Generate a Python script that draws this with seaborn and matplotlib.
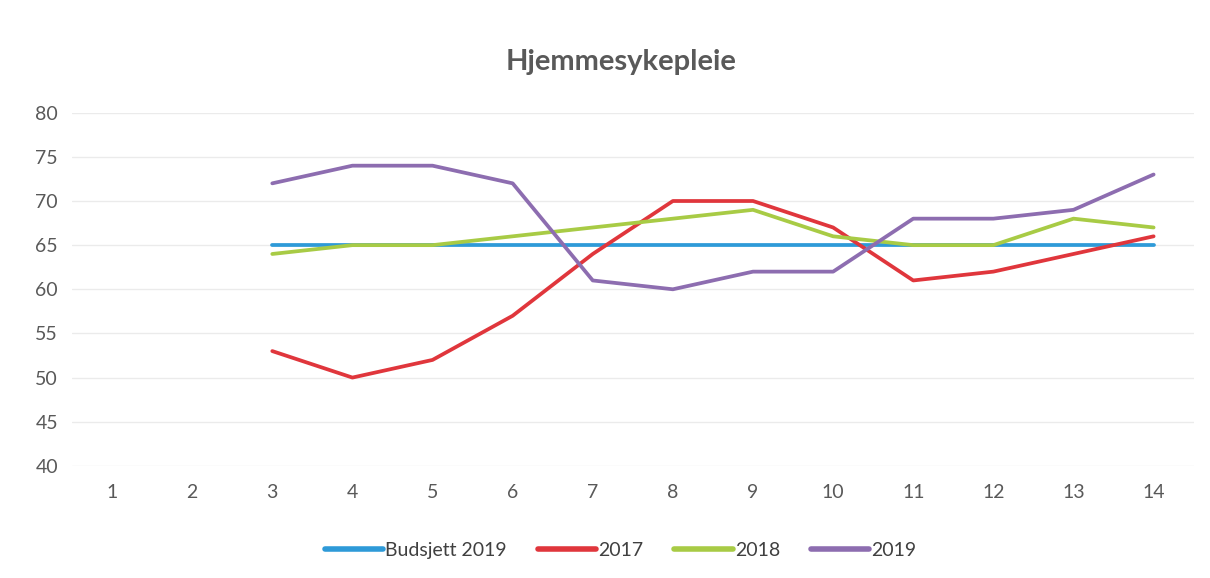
import numpy as np
import pandas as pd
import matplotlib.pyplot as plt
import seaborn as sns

# ==================================================
# DATA
# ==================================================

weeks = list(range(1, 15))
budsjett_2019 = [np.nan, np.nan, 65, 65, 65, 65, 65, 65, 65, 65, 65, 65, 65, 65]
year_2017 = [np.nan, np.nan, 53, 50, 52, 57, 64, 70, 70, 67, 61, 62, 64, 66]
year_2018 = [np.nan, np.nan, 64, 65, 65, 66, 67, 68, 69, 66, 65, 65, 68, 67]
year_2019 = [np.nan, np.nan, 72, 74, 74, 72, 61, 60, 62, 62, 68, 68, 69, 73]

series_names = ["Budsjett 2019", "2017", "2018", "2019"]
colors = ["#2e9ad8", "#e0363c", "#a8cb45", "#8d6db0"]

df = pd.DataFrame({
    "Uke": weeks,
    "Budsjett 2019": budsjett_2019,
    "2017": year_2017,
    "2018": year_2018,
    "2019": year_2019,
})
long_df = df.melt(id_vars="Uke", var_name="Serie", value_name="Verdi").dropna()

# ==================================================
# PLOT
# ==================================================

sns.set_style("white")
plt.rcParams["font.family"] = ["Lato", "DejaVu Sans"]

fig = plt.figure(figsize=(12.1, 5.78), dpi=100)
ax = fig.add_axes([0.0595, 0.194, 0.927, 0.611])

sns.lineplot(
    data=long_df,
    x="Uke",
    y="Verdi",
    hue="Serie",
    hue_order=series_names,
    palette=colors,
    linewidth=2.7,
    ax=ax,
    legend=False,
)

ax.set_xlim(0.5, 14.5)
ax.set_ylim(40, 80)
ax.set_xticks(weeks)
ax.set_yticks(range(40, 81, 5))
ax.tick_params(axis="both", labelsize=14, colors="#595959", length=0)
ax.tick_params(axis="x", pad=13)
ax.tick_params(axis="y", pad=10)
ax.set_xlabel("")
ax.set_ylabel("")
ax.grid(axis="y", color="#ebebeb", linewidth=1)
ax.set_axisbelow(True)
sns.despine(ax=ax, left=True, bottom=True)

fig.suptitle("Hjemmesykepleie", x=0.513, y=0.915, fontsize=21,
             fontweight="bold", color="#595959")

handles = [plt.Line2D([0], [0], color=c, linewidth=4, solid_capstyle="round")
           for c in colors]
fig.legend(handles, series_names, loc="center", bbox_to_anchor=(0.513, 0.048),
           ncol=4, frameon=False, fontsize=14, handlelength=3.0,
           handletextpad=0.1, columnspacing=1.6, labelcolor="#404040")

plt.savefig("out.png", dpi=100)
